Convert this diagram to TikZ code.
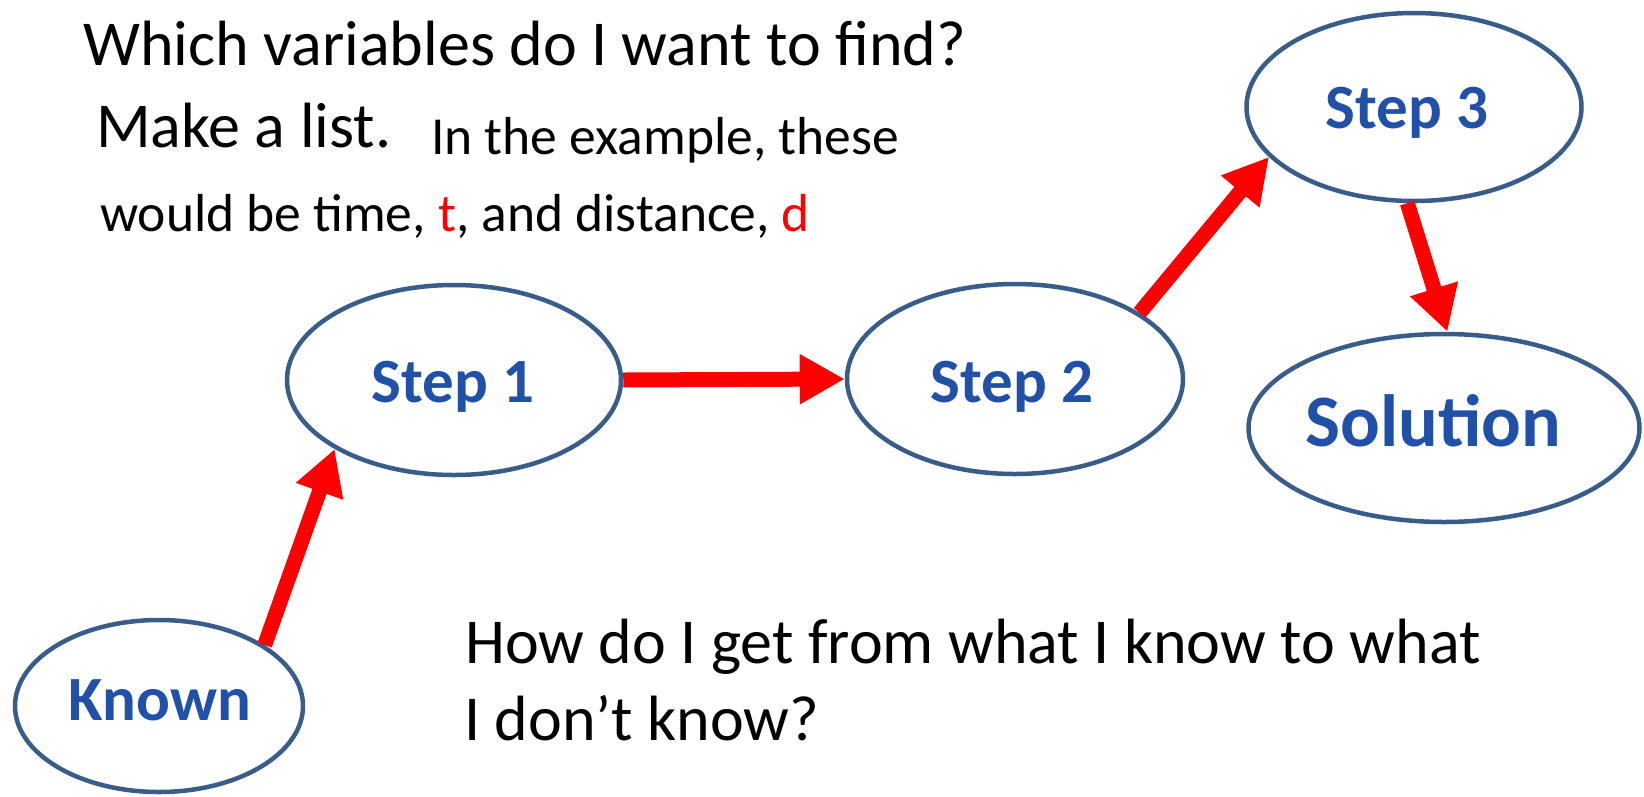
\documentclass[tikz,border=0pt]{standalone}
\usepackage{fontspec}
\setmainfont{Carlito}
\usetikzlibrary{arrows.meta,shapes.geometric}
\definecolor{edgeblue}{HTML}{385D8A}
\definecolor{lblblue}{RGB}{32,80,168}
\definecolor{arrred}{HTML}{FF0000}
\begin{document}
\begin{tikzpicture}[x=1pt,y=-1pt,
  oval/.style={ellipse,draw=edgeblue,line width=4.5pt,inner sep=0pt,fill=white},
  lbl/.style={font=\bfseries\fontsize{63}{70}\selectfont,text=lblblue,inner sep=0pt,anchor=base},
  bigtxt/.style={font=\fontsize{64}{70}\selectfont,inner sep=0pt,anchor=base west},
  smalltxt/.style={font=\fontsize{53.5}{60}\selectfont,inner sep=0pt,anchor=base west},
  flow/.style={draw=arrred,line width=15pt,-{Triangle[width=47pt,length=45pt]}}
]
\useasboundingbox (0,0) rectangle (1644,796);
% ellipses
\node[oval,minimum width=288pt,minimum height=172pt] (kn) at (159,706) {};
\node[oval,minimum width=334pt,minimum height=190pt] (s1) at (454,380) {};
\node[oval,minimum width=336pt,minimum height=190pt] (s2) at (1015,379) {};
\node[oval,minimum width=335pt,minimum height=188pt] (s3) at (1414,107) {};
\node[oval,minimum width=391pt,minimum height=188pt] (sol) at (1444,428) {};
% connectors
\draw[flow] (kn.30.6) -- (s1.210.7);
\draw[flow] (s1.east) -- (s2.west);
\draw[flow] (s2.28.1) -- (s3.199.8);
\draw[flow] (s3.266.4) -- (sol.88);
% labels
\node[lbl] (knt) at (160,720) {Known};
\node[lbl] (s1t) at (453,402) {Step 1};
\node[lbl] (s2t) at (1012,402) {Step 2};
\node[lbl] (s3t) at (1407,128) {Step 3};
\node[lbl,font=\bfseries\fontsize{74}{80}\selectfont] (solt) at (1433,446) {Solution};
% texts
\node[bigtxt] (q1) at (83,65) {Which variables do I want to find?};
\node[bigtxt] (q2) at (96,147) {Make a list.};
\node[smalltxt] (ex1) at (431,154) {In the example, these};
\node[smalltxt] (ex2) at (100,231) {would be time, {\color{arrred}t}, and distance, {\color{arrred}d}};
\node[bigtxt] (q3) at (465,663) {How do I get from what I know to what};
\node[bigtxt] (q4) at (464,740) {I don’t know?};
\end{tikzpicture}
\end{document}
